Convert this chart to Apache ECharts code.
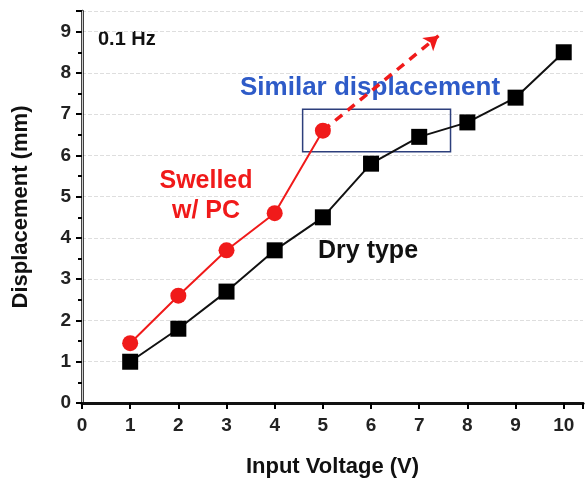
<!DOCTYPE html>
<html>
<head>
<meta charset="utf-8">
<script src="https://cdn.jsdelivr.net/npm/echarts@6/dist/echarts.min.js"></script>
<style>
html, body { margin: 0; padding: 0; background: #fff; }
#chart { width: 586px; height: 479px; }
</style>
</head>
<body>
<div id="chart"></div>
<script>
var voltageDry = [1, 2, 3, 4, 5, 6, 7, 8, 9, 10];
var dryType = [1.0, 1.8, 2.7, 3.7, 4.5, 5.8, 6.45, 6.8, 7.4, 8.5];
var voltageSwelled = [1, 2, 3, 4, 5];
var swelledPC = [1.45, 2.6, 3.7, 4.6, 6.6];
var arrowFrom = [5, 6.6];
var arrowTo = [7.4, 8.9];
var boxCorners = [[4.58, 7.12], [7.65, 6.09]];

var font = '"Liberation Sans", Arial, sans-serif';
var red = '#f01a1a';

function pairs(xs, ys) {
    return xs.map(function (x, i) { return [x, ys[i]]; });
}

var dom = document.getElementById('chart');
var myChart = echarts.init(dom);
var option = {
    animation: false,
    grid: { left: 82, right: 3, top: 11, bottom: 76, containLabel: false, outerBoundsMode: 'none' },
    xAxis: [{
        type: 'value', min: 0, max: 10.4, interval: 1,
        axisLine: { onZero: false, lineStyle: { color: '#000', width: 2.5 } },
        axisTick: { length: 6, lineStyle: { color: '#000', width: 2 } },
        axisLabel: {
            color: '#222', fontFamily: font, fontWeight: 'bold', fontSize: 19, margin: 13,
            formatter: function (v) { return v % 1 === 0 ? v : ''; }
        },
        splitLine: { show: false },
        name: 'Input Voltage (V)', nameLocation: 'middle', nameGap: 53,
        nameTextStyle: { color: '#111', fontFamily: font, fontWeight: 'bold', fontSize: 22 }
    }, {
        type: 'value', min: 0, max: 10.4, position: 'top',
        axisLine: { show: true, lineStyle: { color: '#111', width: 3 } },
        axisTick: { show: false }, axisLabel: { show: false }, splitLine: { show: false }
    }],
    yAxis: [{
        type: 'value', min: 0, max: 9.5, interval: 1,
        axisLine: { show: true, onZero: false, lineStyle: { color: '#000', width: 2.5 } },
        axisTick: { show: true, length: 6, lineStyle: { color: '#000', width: 2 } },
        minorTick: { show: true, splitNumber: 2, length: 4, lineStyle: { color: '#000', width: 2 } },
        axisLabel: {
            color: '#222', fontFamily: font, fontWeight: 'bold', fontSize: 19, margin: 11,
            formatter: function (v) { return v % 1 === 0 ? v : ''; }
        },
        splitLine: { show: true, lineStyle: { color: '#dedede', type: 'dashed', width: 1 } },
        name: 'Displacement (mm)', nameLocation: 'middle', nameGap: 50,
        nameTextStyle: { color: '#111', fontFamily: font, fontWeight: 'bold', fontSize: 22 }
    }, {
        type: 'value', min: 0, max: 9.5, position: 'right',
        axisLine: { show: true, lineStyle: { color: '#cfcfcf', width: 1 } },
        axisTick: { show: false }, axisLabel: { show: false }, splitLine: { show: false }
    }],
    series: [
        {
            name: 'Dry type',
            type: 'line',
            data: pairs(voltageDry, dryType),
            symbol: 'rect', symbolSize: 16,
            itemStyle: { color: '#000' },
            lineStyle: { color: '#111', width: 2 },
            z: 3,
            markArea: {
                silent: true,
                itemStyle: { color: 'rgba(0,0,0,0)', borderColor: '#2d3f7c', borderWidth: 1.5 },
                data: [[{ coord: boxCorners[0] }, { coord: boxCorners[1] }]]
            }
        },
        {
            name: 'Swelled w/ PC',
            type: 'line',
            data: pairs(voltageSwelled, swelledPC),
            symbol: 'circle', symbolSize: 16,
            itemStyle: { color: red },
            lineStyle: { color: red, width: 2 },
            z: 4,
            markLine: {
                silent: true,
                symbol: ['none', 'arrow'], symbolSize: [13, 14],
                label: { show: false },
                lineStyle: { color: red, type: [9, 7], width: 3.5 },
                data: [[{ coord: arrowFrom }, { coord: arrowTo }]]
            }
        }
    ],
    graphic: [
        { type: 'text', x: 98, y: 39, style: { text: '0.1 Hz', fill: '#111', verticalAlign: 'middle', font: 'bold 20px ' + font } },
        { type: 'text', x: 240, y: 88, style: { text: 'Similar displacement', fill: '#2e5bc8', verticalAlign: 'middle', font: 'bold 26px ' + font } },
        { type: 'text', x: 206, y: 181, style: { text: 'Swelled', fill: red, align: 'center', verticalAlign: 'middle', font: 'bold 25px ' + font } },
        { type: 'text', x: 206, y: 211, style: { text: 'w/ PC', fill: red, align: 'center', verticalAlign: 'middle', font: 'bold 25px ' + font } },
        { type: 'text', x: 318, y: 251, style: { text: 'Dry type', fill: '#111', verticalAlign: 'middle', font: 'bold 25px ' + font } }
    ]
};
myChart.setOption(option);
</script>
</body>
</html>
